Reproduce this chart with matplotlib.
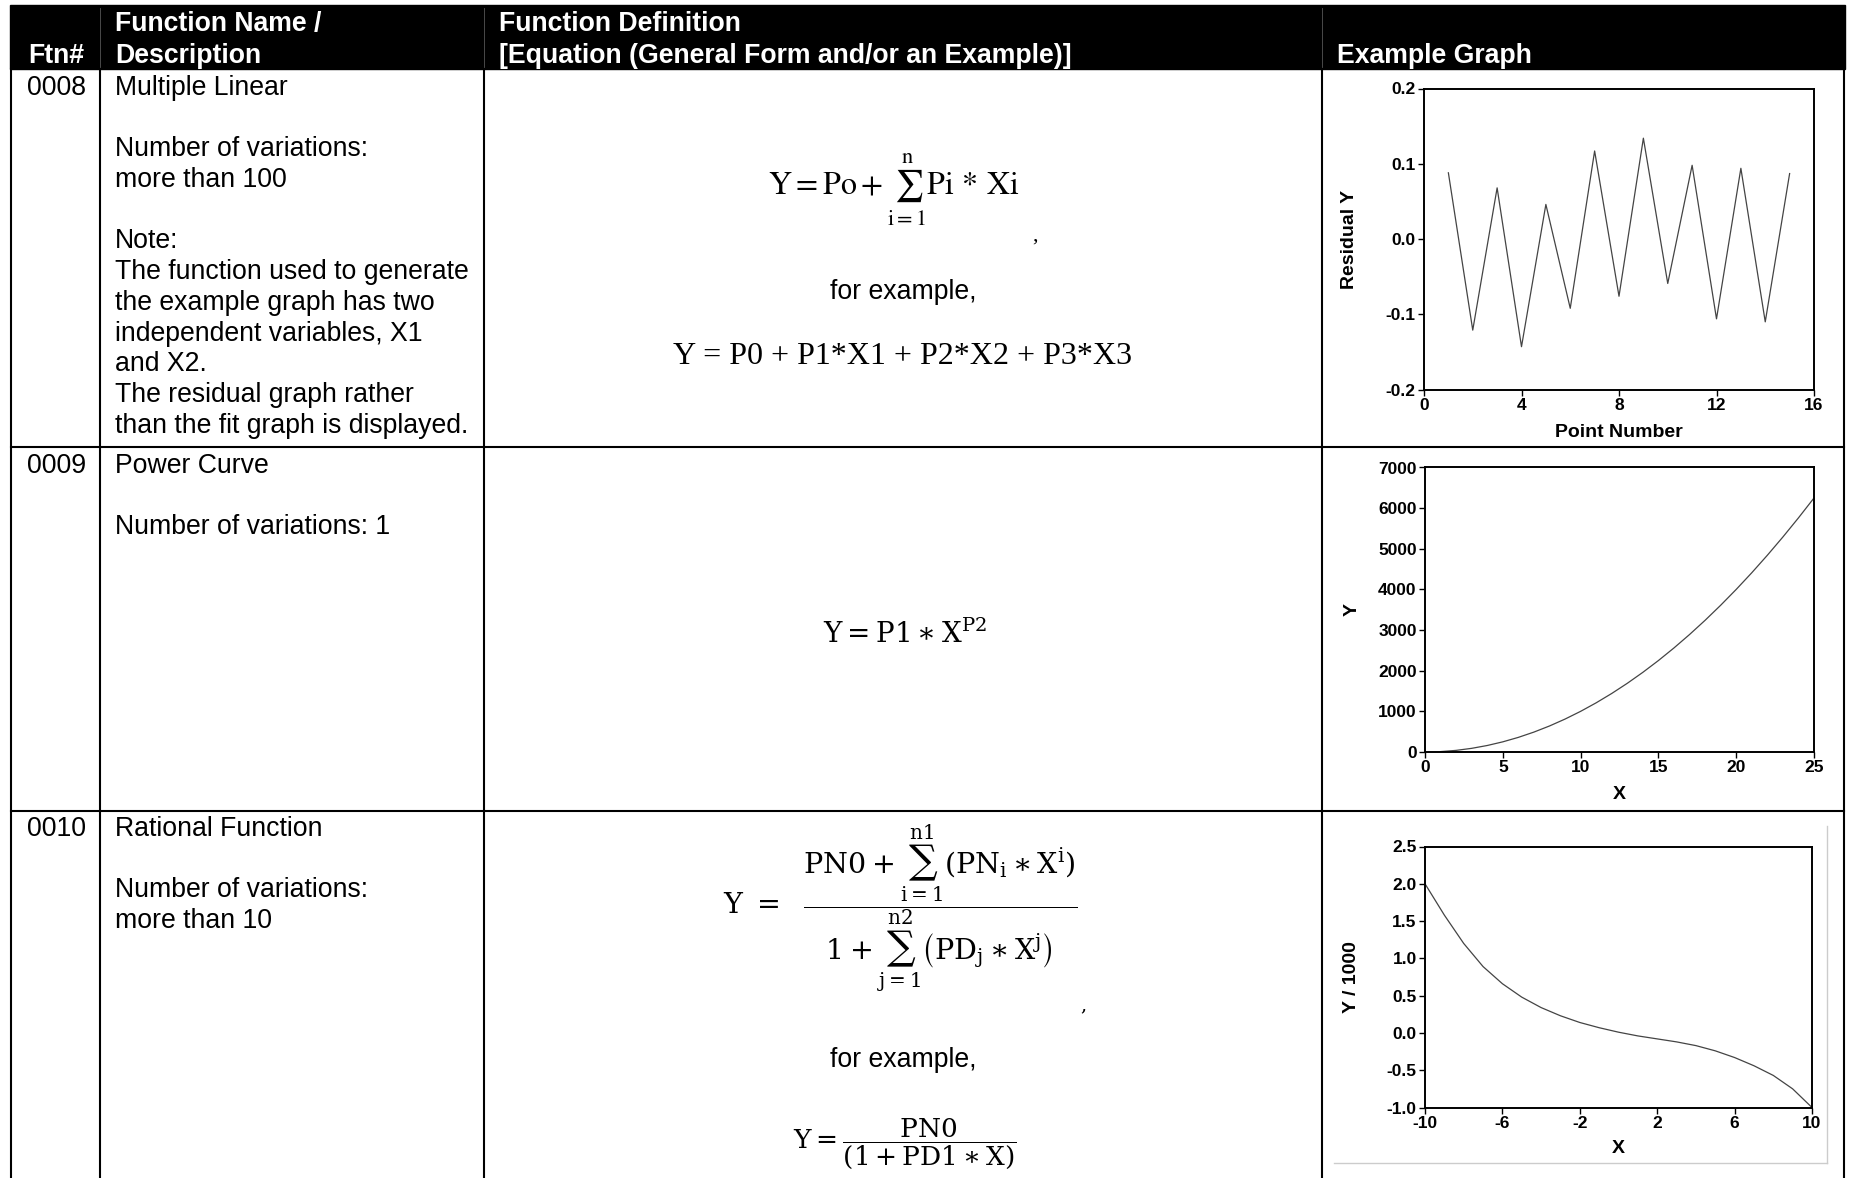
import matplotlib
matplotlib.use('Agg')
import matplotlib.pyplot as plt

plt.rcParams['font.family'] = 'Liberation Sans'
plt.rcParams['axes.unicode_minus'] = False
plt.rcParams['mathtext.fontset'] = 'stix'

W, H = 1851, 1178

# Textos de la tabla
cabecera_arriba = ["", "Function Name /", "Function Definition", ""]
cabecera_abajo = ["Ftn#", "Description", "[Equation (General Form and/or an Example)]", "Example Graph"]
ftn = ["0008", "0009", "0010"]
desc_0008 = ["Multiple Linear", "", "Number of variations:", "more than 100", "", "Note:",
             "The function used to generate", "the example graph has two",
             "independent variables, X1", "and X2.", "The residual graph rather",
             "than the fit graph is displayed."]
desc_0009 = ["Power Curve", "", "Number of variations: 1"]
desc_0010 = ["Rational Function", "", "Number of variations:", "more than 10"]

# Grafico 1: residuos
punto = list(range(1, 16))
residual_y = [0.088, -0.121, 0.068, -0.143, 0.046, -0.092, 0.117, -0.076,
              0.134, -0.059, 0.098, -0.106, 0.094, -0.110, 0.087]

# Grafico 2: curva de potencia
x_potencia = list(range(1, 26))
y_potencia = [10, 40, 90, 160, 250, 360, 490, 640, 810, 1000, 1210, 1440, 1690,
              1960, 2250, 2560, 2890, 3240, 3610, 4000, 4410, 4840, 5290, 5760, 6250]

# Grafico 3: funcion racional (Y / 1000)
x_racional = list(range(-10, 11))
y_racional = [2.00, 1.58, 1.20, 0.89, 0.66, 0.48, 0.34, 0.23, 0.14, 0.07, 0.01,
              -0.04, -0.08, -0.12, -0.17, -0.24, -0.33, -0.44, -0.57, -0.75, -1.00]

fig = plt.figure(figsize=(W / 100, H / 100), dpi=100)
fondo = fig.add_axes([0, 0, 1, 1])
fondo.set_xlim(0, W)
fondo.set_ylim(H, 0)
fondo.axis('off')

# Cabecera negra
fondo.add_patch(plt.Rectangle((10, 5), 1835, 64, color='black', zorder=1))
for xc in [100, 484, 1322]:
    fondo.plot([xc, xc], [8, 67], color='#555555', lw=0.6, zorder=2)

# Lineas de la tabla
lw_tabla = 1.5
for xc in [11, 100, 484, 1322, 1844]:
    fondo.plot([xc, xc], [69, H], color='black', lw=lw_tabla, zorder=2)
for yc in [447, 811]:
    fondo.plot([11, 1844], [yc, yc], color='black', lw=lw_tabla, zorder=2)

# Texto de cabecera
tam = 19.2
col_x = [28, 115, 499, 1337]
for x0, t1, t2 in zip(col_x, cabecera_arriba, cabecera_abajo):
    fondo.text(x0, 31, t1, color='white', fontsize=tam, weight='bold', va='baseline', zorder=3)
    fondo.text(x0, 63, t2, color='white', fontsize=tam, weight='bold', va='baseline', zorder=3)

# Filas
paso = 30.7
for y0, num, lineas in zip([95, 473, 836], ftn, [desc_0008, desc_0009, desc_0010]):
    fondo.text(27, y0, num, fontsize=tam, va='baseline')
    for i, linea in enumerate(lineas):
        fondo.text(115, y0 + i * paso, linea, fontsize=tam, va='baseline')

# Ecuaciones
cx = 903
fondo.text(894, 190, r'$\mathrm{Y} = \mathrm{Po} + \sum_{\mathrm{i=1}}^{\mathrm{n}}\mathrm{Pi\,*\,Xi}$',
           fontsize=23, ha='center', va='center')
fondo.text(1035, 236, ',', family='Liberation Serif', fontsize=16, ha='center', va='center')
fondo.text(cx, 292, 'for example,', fontsize=tam, ha='center', va='center')
fondo.text(cx, 357, 'Y = P0 + P1*X1 + P2*X2 + P3*X3', family='Liberation Serif',
           fontsize=23, ha='center', va='center')

fondo.text(905, 634, r'$\mathrm{Y = P1 \ast X^{P2}}$', math_fontfamily='dejavuserif',
           fontsize=20, ha='center', va='center')

fondo.text(900, 908,
           r'$\mathrm{Y}\ =\ \ \dfrac{\mathrm{PN0} + \sum_{\mathrm{i=1}}^{\mathrm{n1}}\left(\mathrm{PN}_{\mathrm{i}}\ast\mathrm{X}^{\mathrm{i}}\right)}'
           r'{1 + \sum_{\mathrm{j=1}}^{\mathrm{n2}}\left(\mathrm{PD}_{\mathrm{j}}\ast\mathrm{X}^{\mathrm{j}}\right)}$',
           math_fontfamily='dejavuserif', fontsize=20.5, ha='center', va='center')
fondo.text(1083, 1005, ',', family='DejaVu Serif', fontsize=14, ha='center', va='center')
fondo.text(cx, 1060, 'for example,', fontsize=tam, ha='center', va='center')
fondo.text(905, 1144, r'$\mathrm{Y} = \dfrac{\mathrm{PN0}}{(1 + \mathrm{PD1}\ast\mathrm{X})}$',
           math_fontfamily='dejavuserif', fontsize=19, ha='center', va='center')

# Marco gris del grafico 3
fondo.plot([1827, 1827], [826, 1163], color='#cccccc', lw=1)
fondo.plot([1334, 1827], [1163, 1163], color='#cccccc', lw=1)


def caja(l, t, r, b):
    return [l / W, 1 - b / H, (r - l) / W, (b - t) / H]


def estilo(ax, xt, xlab, yt, ydec, xlabel, ylabel, ylabel_x, xlabel_y):
    for s in ax.spines.values():
        s.set_linewidth(1.4)
    ax.tick_params(direction='out', length=4, width=1, pad=2)
    ax.set_xticks(xt, xlab, fontsize=12.5, fontweight='bold')
    ax.set_yticks(yt, [f'{v:.{ydec}f}' for v in yt], fontsize=12.5, fontweight='bold')
    ax.set_xlabel(xlabel, fontsize=14, fontweight='bold', va='center')
    ax.set_ylabel(ylabel, fontsize=14, fontweight='bold', va='center')
    ax.xaxis.set_label_coords(0.5, xlabel_y)
    ax.yaxis.set_label_coords(ylabel_x, 0.5)


# Grafico 1
g1 = fig.add_axes(caja(1424, 88.5, 1814, 389.6))
g1.plot(punto, residual_y, color='#444444', lw=0.9)
g1.set_xlim(0, 16)
g1.set_ylim(-0.2, 0.2)
estilo(g1, [0, 4, 8, 12, 16], ['0', '4', '8', '12', '16'],
       [-0.2, -0.1, 0.0, 0.1, 0.2], 1, 'Point Number', 'Residual Y',
       (1349 - 1424) / 390, -(432 - 389.6) / 301)

# Grafico 2
g2 = fig.add_axes(caja(1425, 467.5, 1814, 752))
g2.plot(x_potencia, y_potencia, color='#444444', lw=0.9)
g2.set_xlim(0, 25)
g2.set_ylim(0, 7000)
estilo(g2, [0, 5, 10, 15, 20, 25], ['0', '5', '10', '15', '20', '25'],
       [0, 1000, 2000, 3000, 4000, 5000, 6000, 7000], 0, 'X', 'Y',
       (1352 - 1425) / 389, -(794.5 - 752) / 284.5)

# Grafico 3
g3 = fig.add_axes(caja(1425, 846.5, 1812, 1107.5))
g3.plot(x_racional, y_racional, color='#444444', lw=0.9)
g3.set_xlim(-10, 10)
g3.set_ylim(-1, 2.5)
estilo(g3, [-10, -6, -2, 2, 6, 10], ['-10', '-6', '-2', '2', '6', '10'],
       [-1.0, -0.5, 0.0, 0.5, 1.0, 1.5, 2.0, 2.5], 1, 'X', 'Y / 1000',
       (1352 - 1425) / 387, -(1148.6 - 1107.5) / 261)

fig.savefig('out.png', dpi=100)
